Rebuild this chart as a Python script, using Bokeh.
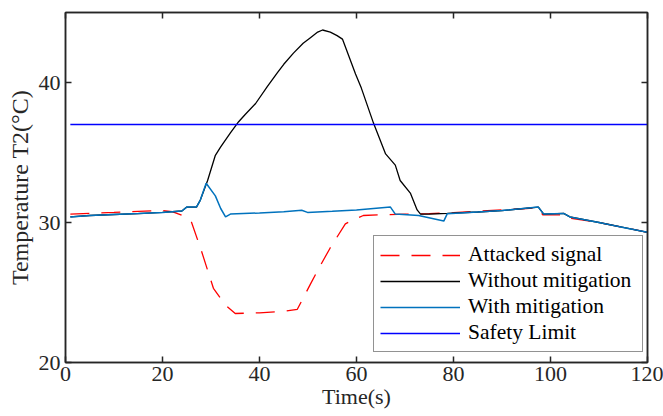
from bokeh.plotting import figure
from bokeh.models import Range1d, LinearAxis, FixedTicker, Legend, LegendItem
from bokeh.embed import file_html
from bokeh.resources import INLINE

# ---- data ----
time_attacked = [1, 5, 10, 15, 20, 22, 24.5, 26, 28, 30.5, 33, 35, 40, 45, 47.8,
                 50.5, 52.5, 54.6, 57.7, 58.8, 61.4, 65, 70, 75, 80, 85, 90, 95,
                 97.3, 98.4, 100, 102.7, 104, 110, 115, 120]
attacked = [30.6, 30.66, 30.72, 30.8, 30.86, 30.78, 30.45, 30.0, 28.0, 25.3, 24.1,
            23.5, 23.55, 23.65, 23.8, 25.6, 26.9, 28.2, 29.9, 30.1, 30.5, 30.55,
            30.6, 30.63, 30.7, 30.8, 30.9, 31.0, 31.05, 30.55, 30.55, 30.55, 30.3,
            30.0, 29.65, 29.3]

time_nomit = [1, 5, 10, 15, 20, 24, 25, 27, 27.8, 29.3, 30.9, 32, 34, 35.7, 37,
              39.2, 41.6, 43.7, 45, 47, 49, 50.5, 52, 53, 54.6, 56, 57.1, 59.8,
              61, 63.5, 66, 68, 69, 71.1, 72.5, 73.2, 75, 78.7, 85, 90, 97.5,
              98.6, 102.7, 104, 110, 115, 120]
nomit = [30.4, 30.5, 30.57, 30.64, 30.72, 30.82, 31.1, 31.1, 31.6, 33.0, 34.8,
         35.4, 36.4, 37.2, 37.7, 38.5, 39.7, 40.7, 41.3, 42.1, 42.8, 43.2, 43.6,
         43.75, 43.6, 43.35, 43.1, 40.6, 39.6, 37.1, 34.9, 34.1, 33.0, 32.1, 30.9,
         30.6, 30.6, 30.65, 30.75, 30.85, 31.1, 30.6, 30.65, 30.4, 30.0, 29.65, 29.3]

time_mit = [1, 5, 10, 15, 20, 24, 25, 27, 27.8, 29, 30.9, 32, 33, 34, 40, 45, 48.7,
            49.9, 55, 60, 67, 68, 72.8, 78, 78.7, 85, 90, 97.5, 98.6, 102.7, 104,
            110, 115, 120]
mit = [30.4, 30.5, 30.57, 30.64, 30.72, 30.82, 31.1, 31.1, 31.6, 32.8, 31.9, 31.0,
       30.4, 30.6, 30.68, 30.77, 30.88, 30.72, 30.8, 30.9, 31.1, 30.6, 30.5, 30.1,
       30.62, 30.75, 30.85, 31.1, 30.6, 30.65, 30.4, 30.0, 29.65, 29.3]

safety_x = [1, 120]
safety_y = [37, 37]

x_ticks = [0, 20, 40, 60, 80, 100, 120]
y_ticks = [20, 30, 40]

FONT = "Liberation Serif"
AX = "#262626"

p = figure(width=663, height=416, output_backend="svg", toolbar_location=None,
           x_range=Range1d(0, 120), y_range=Range1d(20, 45),
           min_border_left=65, min_border_right=16, min_border_top=12,
           min_border_bottom=54)
p.grid.visible = False
p.outline_line_color = AX
p.outline_line_width = 1.5
p.background_fill_color = "white"
p.border_fill_color = "white"

def style_axis(ax, labels=True):
    ax.axis_line_color = AX
    ax.axis_line_width = 1.5
    ax.major_tick_line_color = AX
    ax.major_tick_line_width = 1.5
    ax.major_tick_in = 6
    ax.major_tick_out = 0
    ax.minor_tick_line_color = None
    ax.major_label_text_font = FONT
    if labels:
        ax.major_label_text_font_size = "22px"
        ax.major_label_text_color = AX
    else:
        ax.major_label_text_font_size = "1px"
        ax.major_label_text_color = None
        ax.major_label_standoff = 0

p.xaxis.ticker = FixedTicker(ticks=x_ticks)
p.yaxis.ticker = FixedTicker(ticks=y_ticks)
style_axis(p.xaxis[0])
style_axis(p.yaxis[0])
p.xaxis.major_label_standoff = 4
p.yaxis.major_label_standoff = 5
p.xaxis.axis_label = "Time(s)"
p.yaxis.axis_label = "Temperature T2(°C)"
for ax in (p.xaxis[0], p.yaxis[0]):
    ax.axis_label_text_font = FONT
    ax.axis_label_text_font_style = "normal"
    ax.axis_label_text_color = AX
p.xaxis.axis_label_text_font_size = "22px"
p.yaxis.axis_label_text_font_size = "24px"
p.xaxis.axis_label_standoff = 0
p.yaxis.axis_label_standoff = 3

top = LinearAxis(ticker=FixedTicker(ticks=x_ticks))
style_axis(top, labels=False)
p.add_layout(top, "above")
right = LinearAxis(ticker=FixedTicker(ticks=y_ticks))
style_axis(right, labels=False)
p.add_layout(right, "right")

r1 = p.line(time_attacked, attacked, line_color="#FF0000", line_width=1.3,
            line_dash="19 12")
r2 = p.line(time_nomit, nomit, line_color="#000000", line_width=1.3)
r3 = p.line(time_mit, mit, line_color="#0072BD", line_width=1.5)
r4 = p.line(safety_x, safety_y, line_color="#0000FF", line_width=1.3)

legend = Legend(items=[
    LegendItem(label="Attacked signal", renderers=[r1]),
    LegendItem(label="Without mitigation", renderers=[r2]),
    LegendItem(label="With mitigation", renderers=[r3]),
    LegendItem(label="Safety Limit", renderers=[r4]),
], location=(308, 10))
legend.label_text_font = FONT
legend.label_text_font_size = "21.5px"
legend.label_text_color = "#000000"
legend.glyph_width = 80
legend.glyph_height = 20
legend.label_height = 20
legend.label_width = 168
legend.label_standoff = 8
legend.spacing = 1
legend.padding = 6
legend.margin = 0
legend.border_line_color = AX
legend.border_line_width = 1
legend.background_fill_color = "white"
legend.background_fill_alpha = 1
p.add_layout(legend)

open("out.html", "w").write(file_html(p, INLINE))
